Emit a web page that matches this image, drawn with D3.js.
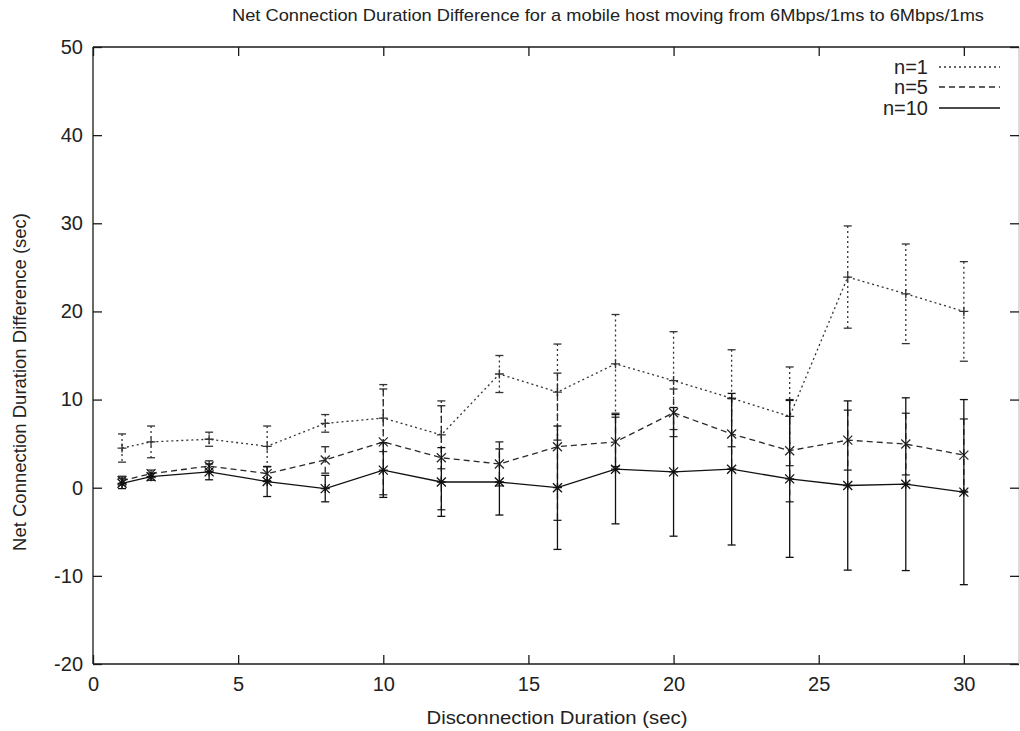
<!DOCTYPE html>
<html>
<head>
<meta charset="utf-8">
<script src="https://cdn.jsdelivr.net/npm/d3@7"></script>
<style>
  html, body { margin: 0; padding: 0; background: #fff; }
  svg { display: block; }
  text { font-family: "Liberation Sans", Arial, Helvetica, sans-serif; fill: #222; }
</style>
</head>
<body>
<svg id="chart" width="1020" height="731"></svg>
<script>
// Disconnection durations (sec)
const durations = [1, 2, 4, 6, 8, 10, 12, 14, 16, 18, 20, 22, 24, 26, 28, 30];

// Mean net connection duration difference (sec) and error half-widths per series
const meanN1  = [4.5, 5.2, 5.5, 4.7, 7.3, 7.9, 6.0, 12.9, 10.85, 14.05, 12.15, 10.15, 8.1, 23.9, 22.0, 20.0];
const errN1   = [1.6, 1.8, 0.8, 2.3, 1.0, 3.8, 3.85, 2.1, 5.45, 5.6, 5.55, 5.5, 5.6, 5.8, 5.65, 5.65];
const meanN5  = [0.8, 1.6, 2.45, 1.6, 3.15, 5.2, 3.4, 2.7, 4.65, 5.2, 8.5, 6.1, 4.2, 5.4, 4.95, 3.7];
const errN5   = [0.5, 0.4, 0.6, 0.8, 1.5, 6.0, 5.9, 2.5, 8.35, 2.8, 2.7, 4.0, 5.8, 3.4, 3.5, 4.1];
const meanN10 = [0.5, 1.25, 1.8, 0.7, -0.1, 2.0, 0.65, 0.65, 0.0, 2.1, 1.8, 2.1, 1.0, 0.25, 0.4, -0.5];
const errN10  = [0.6, 0.4, 0.9, 1.7, 1.5, 3.1, 3.9, 3.75, 7.0, 6.2, 7.3, 8.6, 8.9, 9.6, 9.8, 10.5];

// Axis ticks
const xTicks = [0, 5, 10, 15, 20, 25, 30];
const yTicks = [-20, -10, 0, 10, 20, 30, 40, 50];

const seriesNames = ["n=1", "n=5", "n=10"];

const titleText = "Net Connection Duration Difference for a mobile host moving from 6Mbps/1ms to 6Mbps/1ms";
const xLabel = "Disconnection Duration (sec)";
const yLabel = "Net Connection Duration Difference (sec)";

const series = [
  { name: seriesNames[0], mean: meanN1,  err: errN1,  dash: "2,3", marker: "plus",  color: "#333" },
  { name: seriesNames[1], mean: meanN5,  err: errN5,  dash: "6,4", marker: "cross", color: "#2a2a2a" },
  { name: seriesNames[2], mean: meanN10, err: errN10, dash: null,  marker: "star",  color: "#111" }
];

const svg = d3.select("#chart");
const plotLeft = 93, plotRight = 1019, plotTop = 47, plotBottom = 664;

const x = d3.scaleLinear().domain([0, 31.9]).range([plotLeft, plotRight]);
const y = d3.scaleLinear().domain([-20, 50]).range([plotBottom, plotTop]);

const ink = "#1a1a1a";

// Plot frame (right edge sits at the canvas border and is drawn faint)
const frame = svg.append("g").attr("stroke-width", 1.3).attr("fill", "none");
frame.append("line").attr("x1", plotLeft).attr("x2", plotLeft).attr("y1", plotTop).attr("y2", plotBottom).attr("stroke", ink);
frame.append("line").attr("x1", plotLeft).attr("x2", plotRight).attr("y1", plotTop).attr("y2", plotTop).attr("stroke", ink);
frame.append("line").attr("x1", plotLeft).attr("x2", plotRight).attr("y1", plotBottom).attr("y2", plotBottom).attr("stroke", ink);
frame.append("line").attr("x1", plotRight).attr("x2", plotRight).attr("y1", plotTop).attr("y2", plotBottom).attr("stroke", "#c8c8c8");

// Plain integer labels with an ASCII hyphen for negatives
const intLabel = d => String(d);

// Axes with inward ticks on all four sides
const tickLen = 9;
const xAxisB = d3.axisBottom(x).tickValues(xTicks).tickSize(-tickLen).tickPadding(17).tickFormat(intLabel);
const xAxisT = d3.axisTop(x).tickValues(xTicks).tickSize(-tickLen).tickFormat("");
const yAxisL = d3.axisLeft(y).tickValues(yTicks).tickSize(-tickLen).tickPadding(10).tickFormat(intLabel);
const yAxisR = d3.axisRight(y).tickValues(yTicks).tickSize(-tickLen).tickFormat("");

function styleAxis(g) {
  g.select(".domain").remove();
  g.selectAll(".tick line").attr("stroke", ink).attr("stroke-width", 1.3);
  g.selectAll(".tick text").attr("font-size", 20).attr("fill", "#222")
    .style("font-family", "'Liberation Sans', Arial, sans-serif");
}

svg.append("g").attr("transform", `translate(0,${plotBottom})`).call(xAxisB).call(styleAxis)
  .selectAll(".tick text").attr("dy", "0.5em");
svg.append("g").attr("transform", `translate(0,${plotTop})`).call(xAxisT).call(styleAxis);
svg.append("g").attr("transform", `translate(${plotLeft},0)`).call(yAxisL).call(styleAxis);
svg.append("g").attr("transform", `translate(${plotRight},0)`).call(yAxisR).call(styleAxis);

// Title and axis labels
svg.append("text").attr("x", 608).attr("y", 21).attr("text-anchor", "middle")
  .attr("font-size", 17).attr("textLength", 752).attr("lengthAdjust", "spacingAndGlyphs")
  .text(titleText);
svg.append("text").attr("x", 557).attr("y", 724).attr("text-anchor", "middle")
  .attr("font-size", 19).attr("textLength", 261).attr("lengthAdjust", "spacingAndGlyphs")
  .text(xLabel);
svg.append("text").attr("transform", `translate(26,${y(12)}) rotate(-90)`)
  .attr("text-anchor", "middle").attr("font-size", 18.5).text(yLabel);

// Marker shapes
function markerPath(type, cx, cy, r) {
  const p = d3.path();
  if (type === "plus" || type === "star") {
    p.moveTo(cx - r, cy); p.lineTo(cx + r, cy);
    p.moveTo(cx, cy - r); p.lineTo(cx, cy + r);
  }
  if (type === "cross" || type === "star") {
    p.moveTo(cx - r, cy - r); p.lineTo(cx + r, cy + r);
    p.moveTo(cx - r, cy + r); p.lineTo(cx + r, cy - r);
  }
  return p.toString();
}

const capHalf = 4;
const plot = svg.append("g");

series.forEach(s => {
  const pts = durations.map((d, i) => ({ d, m: s.mean[i], e: s.err[i] }));
  const g = plot.append("g");

  // Connecting line
  g.append("path")
    .datum(pts)
    .attr("d", d3.line().x(p => x(p.d)).y(p => y(p.m)))
    .attr("fill", "none").attr("stroke", s.color).attr("stroke-width", 1.3)
    .attr("stroke-dasharray", s.dash);

  // Error bars
  const eb = g.selectAll("g.eb").data(pts).join("g").attr("class", "eb");
  eb.append("line")
    .attr("x1", p => x(p.d)).attr("x2", p => x(p.d))
    .attr("y1", p => y(p.m + p.e)).attr("y2", p => y(p.m - p.e))
    .attr("stroke", s.color).attr("stroke-width", 1.3).attr("stroke-dasharray", s.dash);
  [1, -1].forEach(sign => {
    eb.append("line")
      .attr("x1", p => x(p.d) - capHalf).attr("x2", p => x(p.d) + capHalf)
      .attr("y1", p => y(p.m + sign * p.e)).attr("y2", p => y(p.m + sign * p.e))
      .attr("stroke", s.color).attr("stroke-width", 1.3);
  });

  // Point markers
  g.selectAll("path.mk").data(pts).join("path").attr("class", "mk")
    .attr("d", p => markerPath(s.marker, x(p.d), y(p.m), 4.5))
    .attr("stroke", s.color).attr("stroke-width", 1.3).attr("fill", "none");
});

// Legend
const legendRows = [67, 87, 108];
series.forEach((s, i) => {
  svg.append("text").attr("x", 928).attr("y", legendRows[i]).attr("dy", "0.36em")
    .attr("text-anchor", "end").attr("font-size", 20).text(s.name);
  svg.append("line").attr("x1", 939).attr("x2", 1000)
    .attr("y1", legendRows[i]).attr("y2", legendRows[i])
    .attr("stroke", s.color).attr("stroke-width", 1.3).attr("stroke-dasharray", s.dash);
});
</script>
</body>
</html>
